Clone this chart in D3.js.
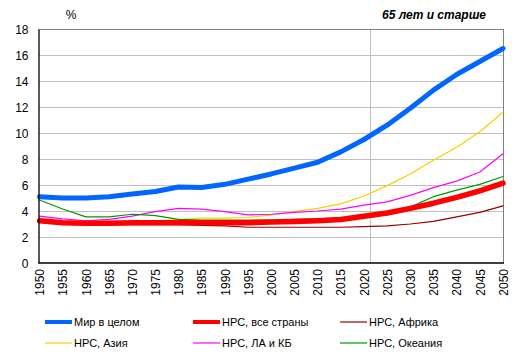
<!DOCTYPE html>
<html><head><meta charset="utf-8">
<script src="https://cdn.jsdelivr.net/npm/d3@7"></script>
<style>body{margin:0;background:#fff}svg{display:block}text{font-family:Arial,"Liberation Sans",sans-serif}</style>
</head><body><div id="c"></div>
<script>
const years = [1950,1955,1960,1965,1970,1975,1980,1985,1990,1995,2000,2005,2010,2015,2020,2025,2030,2035,2040,2045,2050];
const world   = [5.1,5.0,5.0,5.1,5.3,5.5,5.85,5.8,6.05,6.45,6.85,7.3,7.75,8.55,9.5,10.6,11.9,13.3,14.5,15.5,16.5];
const ldcAll  = [3.25,3.1,3.05,3.05,3.1,3.1,3.1,3.1,3.1,3.1,3.15,3.2,3.25,3.35,3.6,3.85,4.2,4.6,5.05,5.55,6.15];
const africa  = [3.25,3.05,3.0,2.95,2.95,2.95,2.95,2.9,2.85,2.75,2.75,2.75,2.75,2.75,2.8,2.85,3.0,3.2,3.55,3.9,4.4];
const asia    = [3.35,3.15,3.05,3.1,3.15,3.2,3.35,3.45,3.45,3.5,3.7,3.95,4.2,4.55,5.15,5.95,6.85,7.9,8.9,10.1,11.6];
const latam   = [3.6,3.4,3.25,3.35,3.6,3.95,4.2,4.15,3.95,3.7,3.75,3.9,4.0,4.15,4.45,4.7,5.2,5.8,6.3,7.0,8.4];
const oceania = [4.85,4.15,3.55,3.55,3.75,3.65,3.35,3.3,3.3,3.3,3.3,3.35,3.4,3.45,3.55,3.7,4.3,5.1,5.6,6.05,6.65];
const seriesNames = ["Мир в целом","НРС, все страны","НРС, Африка","НРС, Азия","НРС, ЛА и КБ","НРС, Океания"];
const yTicks = [0,2,4,6,8,10,12,14,16,18];
const xTicks = [1950,1955,1960,1965,1970,1975,1980,1985,1990,1995,2000,2005,2010,2015,2020,2025,2030,2035,2040,2045,2050];
const markerYear = 2021.3;
const title = "65 лет и старше";
const unit = "%";

const seriesData = [world, ldcAll, africa, asia, latam, oceania];
const colors = ["#0066ff","#ff0000","#990000","#ffcc00","#ff00ff","#009900"];
const widths = [5,5.5,1.2,1.2,1.2,1.2];

const W=519,H=360;
const svg=d3.select("#c").append("svg").attr("width",W).attr("height",H);
const L=38.5,R=504,T=29,B=263;
const x=d3.scaleLinear().domain([1950,2050]).range([39.5,503]);
const y=d3.scaleLinear().domain([0,18]).range([B,T]);

// grid
svg.append("g").selectAll("line").data(yTicks.filter(d=>d>0&&d<18)).join("line")
  .attr("x1",L).attr("x2",R).attr("y1",d=>Math.round(y(d))+0.5).attr("y2",d=>Math.round(y(d))+0.5)
  .attr("stroke","#c0c0c0").attr("stroke-width",1);
svg.append("line").attr("x1",Math.round(x(markerYear))+0.5).attr("x2",Math.round(x(markerYear))+0.5)
  .attr("y1",T).attr("y2",B).attr("stroke","#c0c0c0");
// frame
svg.append("line").attr("x1",L).attr("x2",R).attr("y1",T+0.5).attr("y2",T+0.5).attr("stroke","#808080");
svg.append("line").attr("x1",R-0.5).attr("x2",R-0.5).attr("y1",T).attr("y2",B).attr("stroke","#808080");

// lines (draw thin first, then red, then blue)
const line=d3.line().x((d,i)=>x(years[i])).y(d=>y(d)).curve(d3.curveLinear);
const order=[2,3,4,5,1,0];
order.forEach(i=>{
  svg.append("path").datum(seriesData[i]).attr("d",line).attr("fill","none")
    .attr("stroke",colors[i]).attr("stroke-width",widths[i]).attr("stroke-linejoin","round").attr("stroke-linecap","round");
});

// axes
const ya=d3.axisLeft(y).tickValues(yTicks).tickSize(0).tickPadding(0).tickFormat(d3.format("d"));
const gy=svg.append("g").attr("transform",`translate(${L},0)`).call(ya);
gy.select(".domain").attr("stroke","#000").attr("stroke-width",1.3);
gy.selectAll("text").attr("x",-10).attr("dy","0.35em").attr("font-size",12).attr("fill","#000").attr("font-family","Arial,'Liberation Sans',sans-serif");

const xa=d3.axisBottom(x).tickValues(xTicks).tickSize(0).tickFormat(d3.format("d"));
const gx=svg.append("g").attr("transform",`translate(0,${B})`).call(xa);
gx.select(".domain").attr("d",`M${L},0H${R}`).attr("stroke","#000").attr("stroke-width",1.5);
gx.selectAll("text").attr("transform","rotate(-90)").attr("text-anchor","end")
  .attr("x",-6).attr("y",0).attr("dy","0.35em").attr("font-size",12).attr("fill","#000")
  .attr("font-family","Arial,'Liberation Sans',sans-serif");

// titles
svg.append("text").attr("x",71).attr("y",19).attr("text-anchor","middle").attr("font-size",12).text(unit);
svg.append("text").attr("x",434).attr("y",19).attr("text-anchor","middle").attr("font-size",12)
  .attr("font-weight","bold").attr("font-style","italic").text(title);

// legend
const legX=[45,193,340], legY=[322,343];
seriesNames.forEach((n,i)=>{
  const gx0=legX[i%3], gy0=legY[Math.floor(i/3)];
  const g=svg.append("g").attr("transform",`translate(${gx0},${gy0})`);
  g.append("line").attr("x1",0).attr("x2",27).attr("y1",0).attr("y2",0)
    .attr("stroke",colors[i]).attr("stroke-width",i<2?4:1.2);
  g.append("text").attr("x",29).attr("y",0).attr("dy","0.35em").attr("font-size",11).text(n);
});
</script></body></html>
